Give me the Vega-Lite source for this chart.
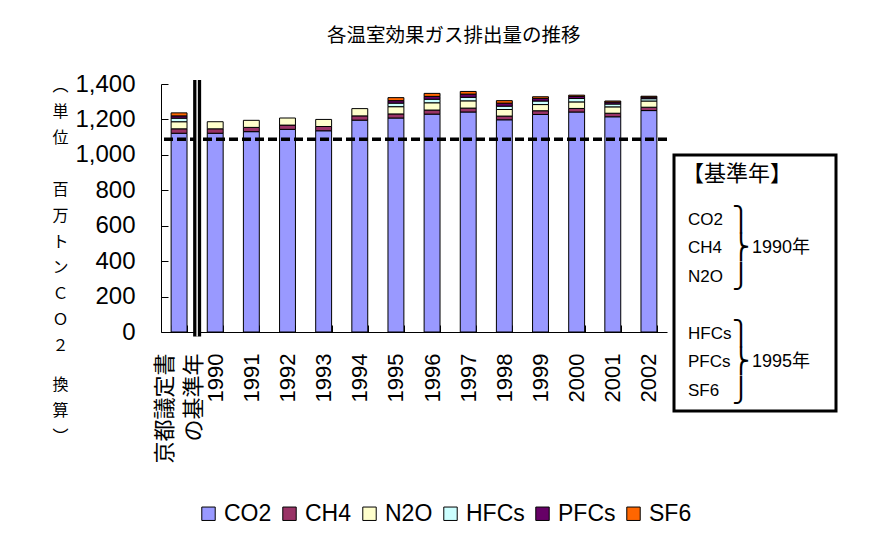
{
  "$schema": "https://vega.github.io/schema/vega-lite/v6.json",
  "background": "white",
  "padding": {"left": 51, "top": 26, "right": 4, "bottom": 4},
  "title": {
    "text": "各温室効果ガス排出量の推移",
    "font": "Noto Sans CJK JP",
    "fontSize": 19.5,
    "fontWeight": "normal",
    "color": "black",
    "anchor": "middle",
    "dx": 9,
    "offset": 25.5
  },
  "datasets": {
    "emissions": [
      {"year": "京都議定書の基準年", "gas": "CO2", "value": 1122},
      {"year": "京都議定書の基準年", "gas": "CH4", "value": 25},
      {"year": "京都議定書の基準年", "gas": "N2O", "value": 40},
      {"year": "京都議定書の基準年", "gas": "HFCs", "value": 20},
      {"year": "京都議定書の基準年", "gas": "PFCs", "value": 13},
      {"year": "京都議定書の基準年", "gas": "SF6", "value": 17},
      {"year": "1990", "gas": "CO2", "value": 1122},
      {"year": "1990", "gas": "CH4", "value": 25},
      {"year": "1990", "gas": "N2O", "value": 40},
      {"year": "1991", "gas": "CO2", "value": 1131},
      {"year": "1991", "gas": "CH4", "value": 24},
      {"year": "1991", "gas": "N2O", "value": 40},
      {"year": "1992", "gas": "CO2", "value": 1144},
      {"year": "1992", "gas": "CH4", "value": 24},
      {"year": "1992", "gas": "N2O", "value": 40},
      {"year": "1993", "gas": "CO2", "value": 1136},
      {"year": "1993", "gas": "CH4", "value": 24},
      {"year": "1993", "gas": "N2O", "value": 40},
      {"year": "1994", "gas": "CO2", "value": 1196},
      {"year": "1994", "gas": "CH4", "value": 24},
      {"year": "1994", "gas": "N2O", "value": 41},
      {"year": "1995", "gas": "CO2", "value": 1208},
      {"year": "1995", "gas": "CH4", "value": 23},
      {"year": "1995", "gas": "N2O", "value": 41},
      {"year": "1995", "gas": "HFCs", "value": 20},
      {"year": "1995", "gas": "PFCs", "value": 14},
      {"year": "1995", "gas": "SF6", "value": 17},
      {"year": "1996", "gas": "CO2", "value": 1230},
      {"year": "1996", "gas": "CH4", "value": 23},
      {"year": "1996", "gas": "N2O", "value": 41},
      {"year": "1996", "gas": "HFCs", "value": 20},
      {"year": "1996", "gas": "PFCs", "value": 16},
      {"year": "1996", "gas": "SF6", "value": 17},
      {"year": "1997", "gas": "CO2", "value": 1242},
      {"year": "1997", "gas": "CH4", "value": 22},
      {"year": "1997", "gas": "N2O", "value": 41},
      {"year": "1997", "gas": "HFCs", "value": 20},
      {"year": "1997", "gas": "PFCs", "value": 18},
      {"year": "1997", "gas": "SF6", "value": 15},
      {"year": "1998", "gas": "CO2", "value": 1198},
      {"year": "1998", "gas": "CH4", "value": 21},
      {"year": "1998", "gas": "N2O", "value": 37},
      {"year": "1998", "gas": "HFCs", "value": 19},
      {"year": "1998", "gas": "PFCs", "value": 17},
      {"year": "1998", "gas": "SF6", "value": 14},
      {"year": "1999", "gas": "CO2", "value": 1228},
      {"year": "1999", "gas": "CH4", "value": 21},
      {"year": "1999", "gas": "N2O", "value": 35},
      {"year": "1999", "gas": "HFCs", "value": 20},
      {"year": "1999", "gas": "PFCs", "value": 15},
      {"year": "1999", "gas": "SF6", "value": 9},
      {"year": "2000", "gas": "CO2", "value": 1242},
      {"year": "2000", "gas": "CH4", "value": 20},
      {"year": "2000", "gas": "N2O", "value": 37},
      {"year": "2000", "gas": "HFCs", "value": 19},
      {"year": "2000", "gas": "PFCs", "value": 12},
      {"year": "2000", "gas": "SF6", "value": 7},
      {"year": "2001", "gas": "CO2", "value": 1215},
      {"year": "2001", "gas": "CH4", "value": 20},
      {"year": "2001", "gas": "N2O", "value": 36},
      {"year": "2001", "gas": "HFCs", "value": 16},
      {"year": "2001", "gas": "PFCs", "value": 11},
      {"year": "2001", "gas": "SF6", "value": 6},
      {"year": "2002", "gas": "CO2", "value": 1250},
      {"year": "2002", "gas": "CH4", "value": 19},
      {"year": "2002", "gas": "N2O", "value": 35},
      {"year": "2002", "gas": "HFCs", "value": 13},
      {"year": "2002", "gas": "PFCs", "value": 9},
      {"year": "2002", "gas": "SF6", "value": 5}
    ],
    "target": [{"level": 1088}],
    "groups": [
      {"gas": "CO2", "brace": "⎫"},
      {"gas": "CH4", "brace": "⎬", "period": "1990年"},
      {"gas": "N2O", "brace": "⎭"},
      {"gas": "HFCs", "brace": "⎫"},
      {"gas": "PFCs", "brace": "⎬", "period": "1995年"},
      {"gas": "SF6", "brace": "⎭"}
    ]
  },
  "spacing": 3,
  "hconcat": [
    {
      "width": 506,
      "height": 248,
      "layer": [
        {
          "data": {"name": "emissions"},
          "transform": [
            {"calculate": "indexof(['CO2', 'CH4', 'N2O', 'HFCs', 'PFCs', 'SF6'], datum.gas)", "as": "stackOrder"}
          ],
          "mark": {"type": "bar", "stroke": "#000", "strokeWidth": 1},
          "encoding": {
            "x": {
              "field": "year",
              "type": "nominal",
              "sort": null,
              "scale": {"paddingInner": 0.56, "paddingOuter": 0.28},
              "axis": {
                "title": null,
                "labelAngle": -90,
                "labelFont": "Liberation Sans, Noto Sans CJK JP",
                "labelFontSize": 22,
                "labelLineHeight": 29,
                "labelExpr": "datum.label == '京都議定書の基準年' ? ['京都議定書', 'の基準年　'] : datum.label",
                "labelOffset": {"condition": {"test": "datum.value == '京都議定書の基準年'", "value": -15}, "value": 0},
                "tickBand": "extent",
                "tickSize": -7,
                "labelPadding": 28
              }
            },
            "y": {
              "field": "value",
              "type": "quantitative",
              "stack": "zero",
              "scale": {"domain": [0, 1400], "nice": false},
              "axis": {
                "title": ["︵", "\u200b", "単", "\u200b", "位", "\u200b", "\u200b", "\u200b", "百", "\u200b", "万", "\u200b", "ト", "\u200b", "ン", "\u200b", "Ｃ", "\u200b", "Ｏ", "\u200b", "２", "\u200b", "\u200b", "換", "\u200b", "算", "\u200b", "︶"],
                "titleFont": "Noto Sans CJK JP",
                "titleFontSize": 16,
                "titleFontWeight": "normal",
                "titleAngle": 0,
                "titleAlign": "center",
                "titleBaseline": "top",
                "titleLineHeight": 13,
                "titleX": -101,
                "titleY": -7,
                "tickCount": 7,
                "format": ",d",
                "labelOverlap": false,
                "labelFont": "Liberation Sans",
                "labelFontSize": 24,
                "tickSize": 0,
                "labelPadding": 26,
                "grid": true,
                "gridColor": "black",
                "gridWidth": 1,
                "gridDash": [7, 1000]
              }
            },
            "color": {
              "field": "gas",
              "type": "nominal",
              "scale": {
                "domain": ["CO2", "CH4", "N2O", "HFCs", "PFCs", "SF6"],
                "range": ["#9999FF", "#993366", "#FFFFCC", "#CCFFFF", "#660066", "#FF6600"]
              },
              "legend": {
                "title": null,
                "orient": "bottom",
                "direction": "horizontal",
                "symbolType": "square",
                "symbolSize": 180,
                "symbolStrokeColor": "black",
                "symbolStrokeWidth": 1,
                "symbolOpacity": 1,
                "labelFont": "Liberation Sans",
                "labelFontSize": 23,
                "labelColor": "black",
                "labelOffset": 4,
                "columnPadding": 6,
                "offset": 38
              }
            },
            "order": {"field": "stackOrder", "type": "quantitative"}
          }
        },
        {
          "data": {"name": "target"},
          "mark": {"type": "rule", "color": "black", "strokeWidth": 3.5, "strokeDash": [9, 4]},
          "encoding": {"y": {"field": "level", "type": "quantitative"}}
        },
        {
          "data": {"values": [{}]},
          "mark": {"type": "rule", "color": "black", "strokeWidth": 8},
          "encoding": {
            "x": {"datum": "京都議定書の基準年", "bandPosition": 1.636},
            "y": {"datum": -25},
            "y2": {"datum": 1423}
          }
        },
        {
          "data": {"values": [{}]},
          "mark": {"type": "rule", "color": "white", "strokeWidth": 1.4},
          "encoding": {
            "x": {"datum": "京都議定書の基準年", "bandPosition": 1.636},
            "y": {"datum": -25},
            "y2": {"datum": 1423}
          }
        }
      ]
    },
    {
      "spacing": 0,
      "vconcat": [
        {
          "width": 162,
          "height": 68.5,
          "view": {"fill": "white"},
          "data": {"values": [{}]},
          "mark": {"type": "text"}
        },
        {
          "width": 162,
          "height": 256,
          "view": {"stroke": "black", "strokeWidth": 3, "fill": "white"},
          "data": {"name": "groups"},
          "encoding": {
            "y": {
              "field": "gas",
              "type": "nominal",
              "scale": {
                "type": "point",
                "domain": ["【基準年】", "CO2", "CH4", "N2O", " ", "HFCs", "PFCs", "SF6"],
                "padding": 1.09,
                "align": 0.64
              },
              "axis": null
            }
          },
          "layer": [
            {
              "data": {"values": [{"gas": "【基準年】"}]},
              "mark": {"type": "text", "font": "Noto Sans CJK JP", "fontSize": 22, "align": "left", "dx": -73, "dy": -17, "color": "black"},
              "encoding": {"text": {"field": "gas"}}
            },
            {
              "mark": {"type": "text", "font": "Liberation Sans", "fontSize": 17, "align": "left", "dx": -67, "color": "black"},
              "encoding": {"text": {"field": "gas"}}
            },
            {
              "mark": {"type": "text", "font": "DejaVu Sans", "fontSize": 24, "dx": -14, "color": "black"},
              "encoding": {"text": {"field": "brace"}}
            },
            {
              "transform": [{"filter": "datum.period"}],
              "mark": {"type": "text", "font": "Liberation Sans, Noto Sans CJK JP", "fontSize": 18, "align": "left", "dx": -3, "color": "black"},
              "encoding": {"text": {"field": "period"}}
            }
          ]
        }
      ]
    }
  ],
  "config": {
    "view": {"stroke": null},
    "font": "Liberation Sans",
    "axis": {
      "domainColor": "black",
      "tickColor": "black",
      "labelColor": "black",
      "titleColor": "black"
    },
    "axisX": {"grid": false},
    "legend": {"layout": {"bottom": {"anchor": "middle"}}}
  }
}
